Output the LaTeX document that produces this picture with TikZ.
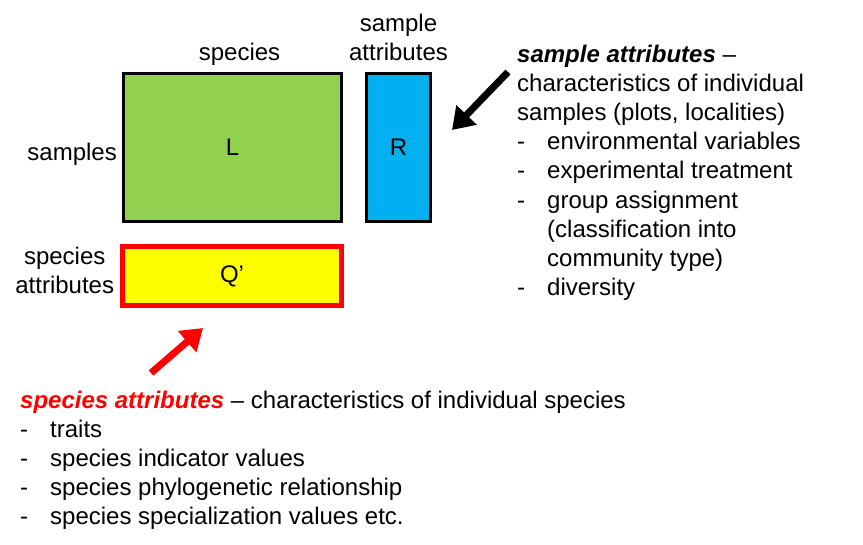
\documentclass[tikz,border=0pt]{standalone}
\usepackage{fontspec}
\setmainfont{Liberation Sans}
\usetikzlibrary{positioning, arrows.meta}
\definecolor{matgreen}{RGB}{146,208,80}
\definecolor{matblue}{RGB}{0,176,240}
\definecolor{matyellow}{RGB}{255,255,0}
\definecolor{matred}{RGB}{255,0,0}
\newcommand{\dashitem}{\makebox[30pt][l]{-}}

\begin{document}
\begin{tikzpicture}[
  x=1pt, y=-1pt,
  font=\fontsize{24}{29.2}\selectfont,
  tbl/.style={draw=black, line width=3pt, inner sep=0pt},
  lbl/.style={inner sep=0pt, align=center},
  notes/.style={inner sep=0pt, align=left, anchor=north west},
  pointer/.style={line width=7pt, -{Triangle[length=21pt, width=27pt]}}
]
  \useasboundingbox (0,0) rectangle (863,545);

  % the three tables
  \node[tbl, fill=matgreen, minimum width=218pt, minimum height=148pt] (L) at (232.5,147.5) {L};
  \node[tbl, fill=matblue, minimum width=64pt, minimum height=148pt] (R) at (398.5,147.5) {R};
  \node[tbl, draw=matred, line width=5pt, fill=matyellow,
    minimum width=219pt, minimum height=59pt] (Q) at (232,276) {Q'};

  % margins of the tables
  \node[lbl, above=6pt of L, xshift=7pt] (species) {species};
  \node[lbl, above=11pt of R] (sampattr) {sample\\attributes};
  \node[lbl, left=5pt of L, yshift=-6.5pt] (samples) {samples};
  \node[lbl, left=5.7pt of Q, yshift=5.6pt] (specattr) {species\\attributes};

  % sample attributes, explained
  \node[notes] (sampnotes) at (517,44.5) {%
    \textbf{\textit{sample attributes}} --\\
    characteristics of individual\\
    samples (plots, localities)\\
    \dashitem environmental variables\\
    \dashitem experimental treatment\\
    \dashitem group assignment\\
    \hspace*{30pt}(classification into\\
    \hspace*{30pt}community type)\\
    \dashitem diversity};

  % species attributes, explained
  \node[notes] (specnotes) at (20,390.6) {%
    \textcolor{matred}{\textbf{\textit{species attributes}}} -- characteristics of individual species\\
    \dashitem traits\\
    \dashitem species indicator values\\
    \dashitem species phylogenetic relationship\\
    \dashitem species specialization values etc.};

  % pointers
  \coordinate (satail) at (508,72);
  \coordinate (satip) at (452,130);
  \coordinate (sptail) at (151,373);
  \coordinate (sptip) at (203,328);
  \draw[pointer] (satail) -- (satip);
  \draw[pointer, matred] (sptail) -- (sptip);
\end{tikzpicture}
\end{document}
